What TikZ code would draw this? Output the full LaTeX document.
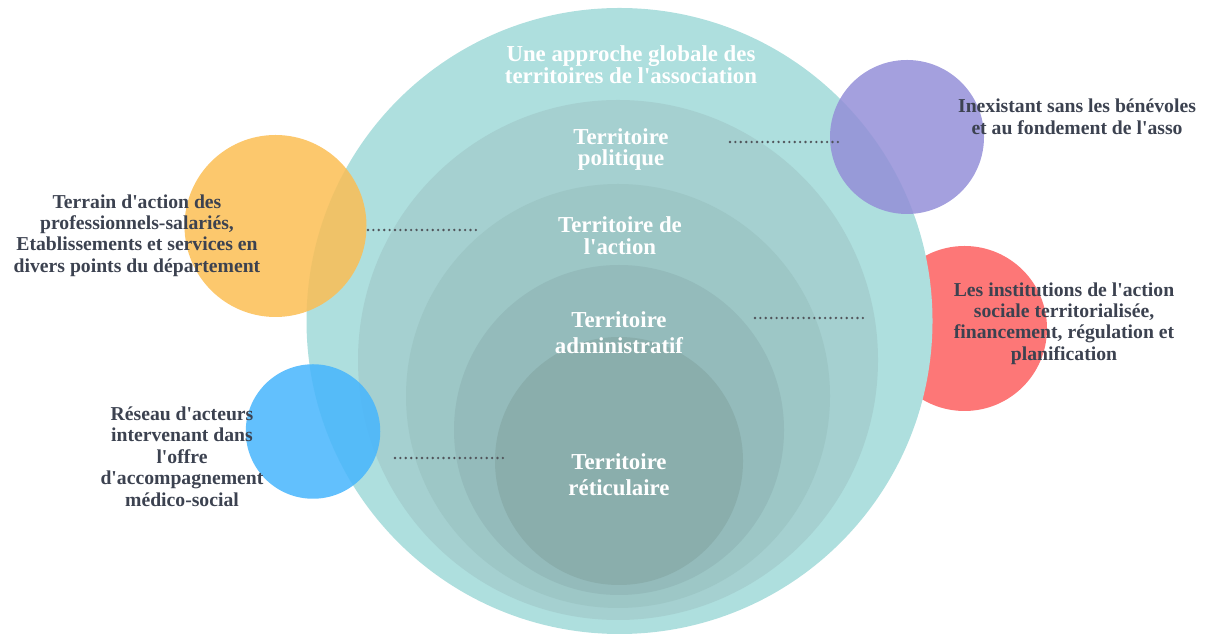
\documentclass[tikz,border=0pt]{standalone}
\usepackage{fontspec}
\newfontfamily\labfont{Liberation Serif}
\usepackage{tikz}
\usetikzlibrary{positioning}
\usepackage{xcolor}
\definecolor{ink}{RGB}{60,66,80}
\definecolor{dotc}{RGB}{80,84,90}
\definecolor{tealA}{RGB}{174,223,222}
\definecolor{tealB}{RGB}{165,208,208}
\definecolor{tealC}{RGB}{157,199,198}
\definecolor{tealD}{RGB}{148,187,187}
\definecolor{tealE}{RGB}{138,174,172}
\definecolor{orangeC}{RGB}{251,190,84}
\definecolor{blueC}{RGB}{70,181,253}
\definecolor{purpleC}{RGB}{148,143,216}
\definecolor{redC}{RGB}{253,119,119}
\tikzset{
  disc/.style={circle,inner sep=0pt,draw=none},
  halo/.style={disc,fill opacity=.85},
  sidetxt/.style={align=center,text=ink,font=\labfont\fontsize{11.2}{12.2}\selectfont\bfseries},
  midtxt/.style={align=center,text=white,font=\labfont\fontsize{13}{12.4}\selectfont\bfseries},
  dotline/.style={dotc,line width=1.5pt,dash pattern=on 0pt off 3.07pt,line cap=round},
}

\begin{document}
\begin{tikzpicture}
\useasboundingbox (0,0) rectangle (24.14,12.68);
% red disc sits behind the big one
\node[disc,fill=redC,minimum size=3.3cm] (inst) at (19.29,6.11) {};
\node[disc,fill=tealA,minimum size=12.52cm] (glob) at (12.39,6.26) {};
\foreach \n/\x/\y/\d/\c in {pol/12.36/5.48/10.4/tealB,act/12.36/4.76/8.48/tealC,
    adm/12.38/4.08/6.6/tealD,ret/12.38/3.46/4.96/tealE}{
  \node[disc,fill=\c,minimum size=\d cm] (\n) at (\x,\y) {};}
% see-through discs on top
\node[halo,fill=orangeC,minimum size=3.64cm] (terr) at (5.51,8.16) {};
\node[halo,fill=blueC,minimum size=2.69cm] (res) at (6.26,4.05) {};
\node[halo,fill=purpleC,minimum size=3.08cm] (ben) at (18.14,9.94) {};

\node[midtxt] (tglob) at (12.62,11.38) {Une approche globale des\\territoires de l'association};
\node[midtxt] (tpol) at (12.42,9.69) {Territoire\\politique};
\node[midtxt] (tact) at (12.40,7.97) {Territoire de\\l'action};
\node[midtxt,font=\labfont\fontsize{13}{14.7}\selectfont\bfseries] (tadm) at (12.38,6.02) {Territoire\\administratif};
\node[midtxt,font=\labfont\fontsize{13}{14.7}\selectfont\bfseries] (tret) at (12.38,3.18) {Territoire\\réticulaire};

\node[sidetxt] (lterr) at (2.74,7.97) {Terrain d'action des\\professionnels-salariés,\\Etablissements et services en\\divers points du département};
\node[sidetxt] (lres) at (3.64,3.55) {Réseau d'acteurs\\intervenant dans\\l'offre\\d'accompagnement\\médico-social};
\node[sidetxt] (lben) at (21.54,10.34) {Inexistant sans les bénévoles\\et au fondement de l'asso};
\node[sidetxt] (linst) at (21.28,6.21) {Les institutions de l'action\\sociale territorialisée,\\financement, régulation et\\planification};

\coordinate (d1a) at (14.6,9.84);  \coordinate (d1b) at (16.76,9.84);
\coordinate (d2a) at (7.36,8.08);  \coordinate (d2b) at (9.52,8.08);
\coordinate (d3a) at (15.1,6.32);  \coordinate (d3b) at (17.26,6.32);
\coordinate (d4a) at (7.9,3.52);   \coordinate (d4b) at (10.06,3.52);
\draw[dotline] (d1a) -- (d1b);
\draw[dotline] (d2a) -- (d2b);
\draw[dotline] (d3a) -- (d3b);
\draw[dotline] (d4a) -- (d4b);
\end{tikzpicture}
\end{document}
